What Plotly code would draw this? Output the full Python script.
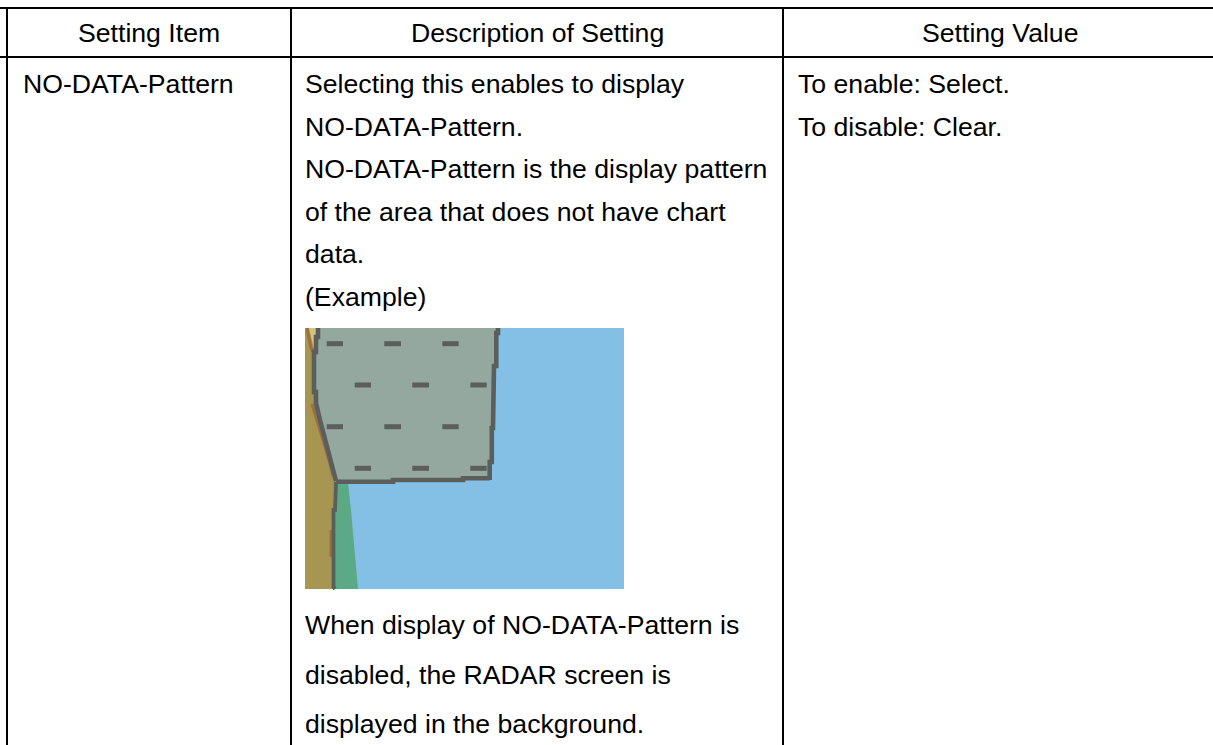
import plotly.graph_objects as go

W, H = 1213, 745
FONT = "Liberation Sans"
TEXT_SIZE = 26.65

# table rules
h_rules_y = [8, 57]
v_rules_x = [7, 291, 783]

# text
header_labels = ["Setting Item", "Description of Setting", "Setting Value"]
header_x = [149, 537, 1000]
header_y = 33
col_x = [21, 303, 796]
col1_lines = [("NO-DATA-Pattern", 84)]
col2_lines = [
    ("Selecting this enables to display", 84),
    ("NO-DATA-Pattern.", 127),
    ("NO-DATA-Pattern is the display pattern", 169),
    ("of the area that does not have chart", 212),
    ("data.", 254),
    ("(Example)", 297),
    ("When display of NO-DATA-Pattern is", 625),
    ("disabled, the RADAR screen is", 675),
    ("displayed in the background.", 724),
]
col3_lines = [("To enable: Select.", 84), ("To disable: Clear.", 127)]

# example picture
pic_x = [305, 624, 624, 305, 305]
pic_y = [328, 328, 589, 589, 328]
land_x = [305, 310, 318, 313, 316, 336, 333, 333, 305, 305]
land_y = [328, 328, 328, 366, 400, 482, 520, 589, 589, 328]
pale_x = [309, 318, 315, 313]
pale_y = [328, 328, 352, 345]
green_x = [336, 348, 351, 355, 358, 333]
green_y = [483, 483, 510, 555, 589, 589]
grey_x = [318, 498, 496, 494, 493, 491.8, 489.7, 461, 393, 336, 320, 316, 314, 313, 314, 316]
grey_y = [328, 328, 366, 398, 428, 462, 479, 480, 482, 481, 420, 400, 390, 366, 353, 340]
out_l_x = [318, 318, 316, 316, 314, 314, 313, 313, 314, 314, 316, 316, 320, 336]
out_l_y = [328, 337, 337, 352, 352, 362, 362, 383, 383, 392, 392, 403, 420, 481]
out_r_x = [498, 498, 496.3, 496.3, 494, 494, 493, 493, 491.8, 491.8, 489.7, 489.7]
out_r_y = [328, 333, 333, 366, 366, 398, 398, 428, 428, 462, 462, 480]
out_b_x = [489.7, 463, 463, 393, 393, 336]
out_b_y = [478.3, 478.3, 480, 480, 481.7, 481.7]
out_g_x = [336, 335, 333.5, 333.5, 335]
out_g_y = [482, 510, 510, 587, 589]
brown_a_x = [307, 309, 311, 313]
brown_a_y = [328, 340, 348, 352]
brown_b_x = [312, 316, 323, 329, 333]
brown_b_y = [404, 418, 440, 460, 476]
brown_c_x = [331, 331]
brown_c_y = [530, 557]
dash_row_a = [(326.7, 343), (384.3, 401), (442.3, 458.7)]
dash_row_b = [(354.7, 371), (412.3, 429), (470.3, 486.7)]
dash_rows = [(343.7, dash_row_a), (385, dash_row_b), (426.7, dash_row_a), (468.3, dash_row_b)]

C_BLUE, C_LAND, C_PALE = "#84C0E6", "#A79552", "#D6C57E"
C_GREEN, C_GREY, C_DARK, C_BROWN = "#5CA985", "#95A8A0", "#5A5F5C", "#A06E3C"

fig = go.Figure()


def fill(x, y, color):
    fig.add_trace(go.Scatter(x=x, y=y, mode="lines", fill="toself", fillcolor=color,
                             line=dict(width=0), hoverinfo="skip", showlegend=False))


def stroke(x, y, color, width):
    fig.add_trace(go.Scatter(x=x, y=y, mode="lines", line=dict(color=color, width=width),
                             hoverinfo="skip", showlegend=False))


for x, y, c in [(pic_x, pic_y, C_BLUE), (land_x, land_y, C_LAND), (pale_x, pale_y, C_PALE),
                (green_x, green_y, C_GREEN), (grey_x, grey_y, C_GREY)]:
    fill(x, y, c)
for x, y in [(brown_a_x, brown_a_y), (brown_b_x, brown_b_y), (brown_c_x, brown_c_y)]:
    stroke(x, y, C_BROWN, 3)
for x, y in [(out_l_x, out_l_y), (out_r_x, out_r_y), (out_b_x, out_b_y)]:
    stroke(x, y, C_DARK, 4.6)
stroke(out_g_x, out_g_y, C_DARK, 3.8)
for yy, row in dash_rows:
    for a, b in row:
        stroke([a, b], [yy, yy], C_DARK, 5)

for yy in h_rules_y:
    fig.add_shape(type="line", x0=0, x1=W, y0=yy, y1=yy, line=dict(color="#000", width=2))
for xx in v_rules_x:
    fig.add_shape(type="line", x0=xx, x1=xx, y0=8, y1=H, line=dict(color="#000", width=2))


def label(text, x, y, anchor):
    fig.add_annotation(x=x, y=y, text=text, showarrow=False, xanchor=anchor, yanchor="middle",
                       font=dict(family=FONT, size=TEXT_SIZE, color="#000"))


for t, x in zip(header_labels, header_x):
    label(t, x, header_y, "center")
for x, lines in zip(col_x, [col1_lines, col2_lines, col3_lines]):
    for t, y in lines:
        label(t, x, y, "left")

fig.update_layout(width=W, height=H, margin=dict(l=0, r=0, t=0, b=0),
                  paper_bgcolor="#fff", plot_bgcolor="#fff", showlegend=False,
                  xaxis=dict(range=[0, W], visible=False, fixedrange=True),
                  yaxis=dict(range=[H, 0], visible=False, fixedrange=True))
fig.write_html("out.html", config=dict(displayModeBar=False),
               post_script="document.body.style.margin='0';document.body.style.overflow='hidden';")
